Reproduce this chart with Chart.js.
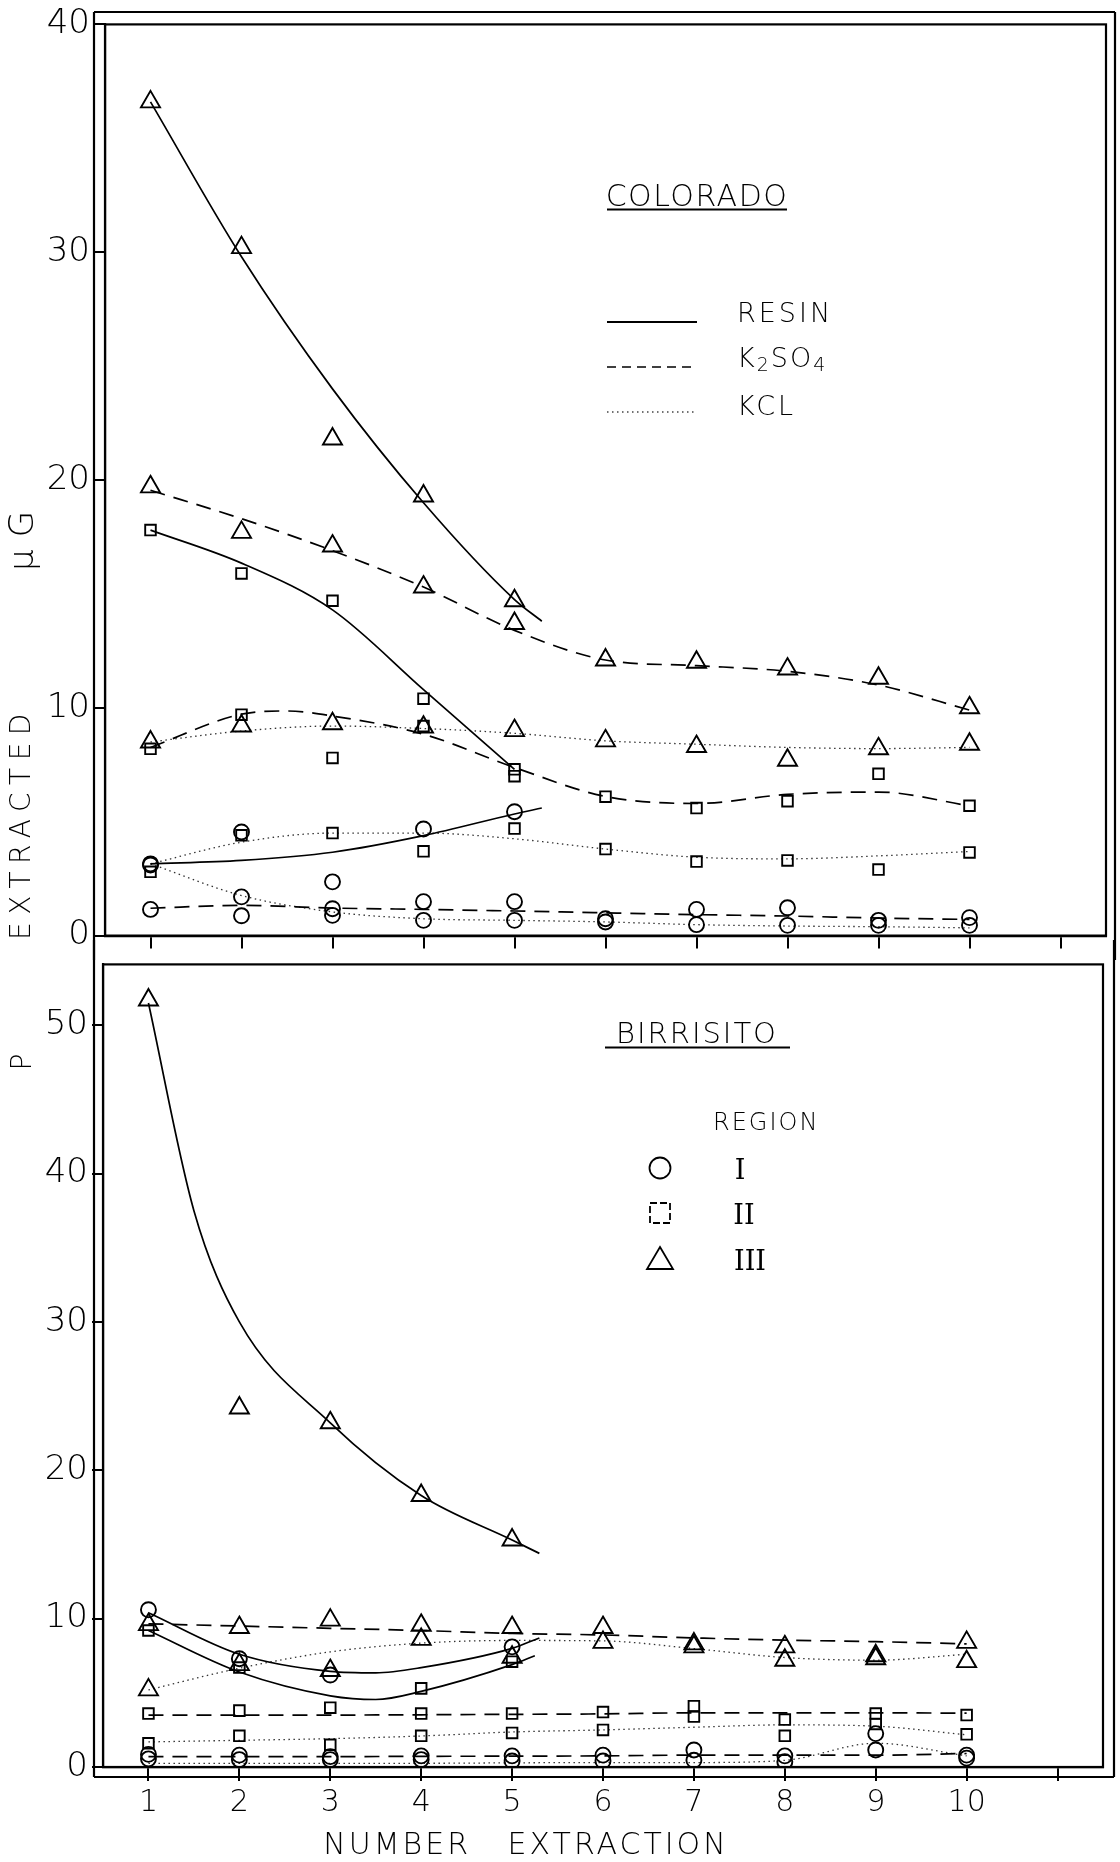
<!DOCTYPE html>
<html>
<head>
<meta charset="utf-8">
<title>P extracted - Colorado / Birrisito</title>
<script src="https://cdn.jsdelivr.net/npm/chart.js@4.4.0/dist/chart.umd.min.js"></script>
<style>
  html, body { margin: 0; padding: 0; background: #fff; }
  #page { position: relative; width: 1120px; height: 1862px; overflow: hidden; color: #000;
          font-family: "DejaVu Sans", sans-serif; font-weight: 200; }
  canvas { position: absolute; left: 0; }
  #topChart { top: 0; }
  #bottomChart { top: 940px; }
  #deco { position: absolute; left: 0; top: 0; }
  .txt { position: absolute; white-space: nowrap; line-height: 1; }
  .c { transform: translate(-50%, -50%); }
  .l { transform: translate(0, -50%); }
  .rot { transform: translate(-50%, -50%) rotate(-90deg); }
  .roman { font-family: "DejaVu Serif", serif; font-weight: 400; font-size: 27px; }
  sub { font-size: 0.7em; vertical-align: -0.25em; }
</style>
</head>
<body>
<div id="page">
  <canvas id="topChart" width="1120" height="960"></canvas>
  <canvas id="bottomChart" width="1120" height="922"></canvas>

  <svg id="deco" width="1120" height="1862">
    <!-- underlines -->
    <line x1="607" y1="209.5" x2="787" y2="209.5" stroke="#000" stroke-width="2"/>
    <line x1="605" y1="1047.5" x2="790" y2="1047.5" stroke="#000" stroke-width="2"/>
    <!-- line style key -->
    <line x1="607" y1="322" x2="697" y2="322" stroke="#000" stroke-width="1.8"/>
    <line x1="607" y1="367" x2="697" y2="367" stroke="#000" stroke-width="1.6" stroke-dasharray="9 6"/>
    <line x1="607" y1="412" x2="697" y2="412" stroke="#444" stroke-width="1.3" stroke-dasharray="1.5 3.5"/>
    <!-- symbol key -->
    <circle cx="660" cy="1168" r="10.5" fill="none" stroke="#000" stroke-width="1.8"/>
    <rect x="650" y="1203" width="20" height="20" fill="none" stroke="#000" stroke-width="1.8" stroke-dasharray="7 3"/>
    <polygon points="660,1247 673,1269 647,1269" fill="none" stroke="#000" stroke-width="1.8"/>
  </svg>

  <div class="txt c" style="left:697px; top:196px; font-size:30px; letter-spacing:1.5px;">COLORADO</div>
  <div class="txt l" style="left:737px; top:312px; font-size:27px; letter-spacing:3px;">RESIN</div>
  <div class="txt l" style="left:737px; top:359px; font-size:27px; letter-spacing:2px;">K<sub>2</sub>SO<sub>4</sub></div>
  <div class="txt l" style="left:737px; top:405px; font-size:27px; letter-spacing:3px;">KCL</div>

  <div class="txt c" style="left:697px; top:1033px; font-size:29px; letter-spacing:2px;">BIRRISITO</div>
  <div class="txt l" style="left:713px; top:1122px; font-size:24px; letter-spacing:2px;">REGION</div>
  <div class="txt c roman" style="left:740px; top:1169px;">I</div>
  <div class="txt c roman" style="left:744px; top:1214px;">II</div>
  <div class="txt c roman" style="left:750px; top:1260px;">III</div>

  <div class="txt rot" style="left:22px; top:1062px; font-size:28px;">P</div>
  <div class="txt rot" style="left:21px; top:823px; font-size:28px; letter-spacing:7.5px;">EXTRACTED</div>
  <div class="txt rot" style="left:21px; top:535px; font-size:34px; letter-spacing:12px;">μG</div>
  <div class="txt c" style="left:526px; top:1844px; font-size:30px; letter-spacing:3px; word-spacing:24px;">NUMBER EXTRACTION</div>
</div>

<script>
// extraction numbers (x)
const extractions = [1, 2, 3, 4, 5, 6, 7, 8, 9, 10];
const resinExtractions = [1, 2, 3, 4, 5];
const xTicks = [1, 2, 3, 4, 5, 6, 7, 8, 9, 10, 11];
const xTickLabels = ['1', '2', '3', '4', '5', '6', '7', '8', '9', '10', ''];
const coloradoYTicks = [0, 10, 20, 30, 40];
const birrisitoYTicks = [0, 10, 20, 30, 40, 50];

// Colorado - measured P (ug), region I / II / III
const coResinI = [3.15, 4.55, 2.36, 4.68, 5.44];
const coResinII = [17.8, 15.9, 14.7, 10.4, 7.3];
const coResinIII = [36.6, 30.2, 21.8, 19.3, 14.7];
const coK2so4I = [1.15, 0.87, 1.18, 1.49, 1.49, 0.74, 1.15, 1.22, 0.67, 0.79];
const coK2so4II = [8.2, 9.7, 7.8, 9.2, 7.0, 6.1, 5.6, 5.9, 7.1, 5.7];
const coK2so4III = [19.7, 17.7, 17.1, 15.3, 13.7, 12.1, 12.0, 11.7, 11.3, 10.0];
const coKclI = [3.1, 1.7, 0.89, 0.67, 0.67, 0.6, 0.48, 0.45, 0.45, 0.45];
const coKclII = [2.8, 4.4, 4.5, 3.7, 4.7, 3.8, 3.25, 3.3, 2.9, 3.65];
const coKclIII = [8.5, 9.2, 9.3, 9.15, 9.0, 8.55, 8.3, 7.7, 8.2, 8.4];

// Colorado - hand drawn curves
const coResinIIIFitX = [1, 2, 3, 4, 5, 5.3];
const coResinIIIFit = [36.6, 29.8, 24.0, 19.0, 14.75, 13.8];
const coResinIIFitX = [1, 2, 3, 4, 5];
const coResinIIFit = [17.8, 16.35, 14.3, 10.8, 7.3];
const coResinIFitX = [1, 2, 3, 4, 5, 5.3];
const coResinIFit = [3.15, 3.3, 3.66, 4.39, 5.34, 5.6];
const coK2so4IIIFit = [19.55, 18.3, 16.9, 15.3, 13.4, 12.1, 11.85, 11.6, 11.0, 9.9];
const coK2so4IIFitX = [1, 2, 2.5, 3, 4, 5, 6, 7, 8, 9, 10];
const coK2so4IIFit = [8.26, 9.72, 9.86, 9.64, 8.84, 7.38, 6.11, 5.8, 6.2, 6.3, 5.7];
const coK2so4IFit = [1.2, 1.33, 1.21, 1.15, 1.08, 1.0, 0.92, 0.86, 0.77, 0.71];
const coKclIIIFit = [8.5, 8.98, 9.2, 9.09, 8.88, 8.55, 8.4, 8.26, 8.21, 8.26];
const coKclIIFit = [3.15, 4.1, 4.5, 4.5, 4.25, 3.8, 3.44, 3.37, 3.5, 3.69];
const coKclIFit = [3.15, 1.76, 1.04, 0.74, 0.67, 0.6, 0.48, 0.42, 0.39, 0.34];

// Birrisito - measured P (ug)
const biResinI = [10.6, 7.3, 6.2, null, 8.1];
const biResinII = [9.2, 6.7, null, 5.3, 7.1];
const biResinIII = [51.7, 24.2, 23.2, 18.3, 15.3];
const biK2so4I = [0.85, 0.8, 0.7, 0.75, 0.75, 0.8, 1.15, 0.75, 1.15, 0.8];
const biK2so4II = [3.6, 3.8, 4.0, 3.6, 3.6, 3.7, 4.1, 3.2, 3.6, 3.5];
const biK2so4III = [9.6, 9.4, 9.9, 9.55, 9.4, 9.4, 8.3, 8.1, 7.5, 8.4];
const biKclI = [0.55, 0.5, 0.5, 0.5, 0.4, 0.4, 0.45, 0.35, 2.25, 0.6];
const biKclII = [1.6, 2.1, 1.5, 2.1, 2.3, 2.5, 3.4, 2.1, 2.9, 2.2];
const biKclIII = [5.2, 6.9, 6.5, 8.6, 7.4, 8.4, 8.1, 7.2, 7.3, 7.1];

// Birrisito - hand drawn curves
const biResinIIIFitX = [1, 1.5, 2, 3, 4, 5, 5.3];
const biResinIIIFit = [51.5, 37.5, 30, 23.2, 18.3, 15.3, 14.4];
const biResinIFitX = [1, 2, 3, 3.5, 4, 5, 5.3];
const biResinIFit = [10.4, 7.6, 6.45, 6.35, 6.7, 8.0, 8.7];
const biResinIIFitX = [1, 2, 3, 3.5, 4, 5, 5.25];
const biResinIIFit = [9.2, 6.4, 4.8, 4.55, 5.1, 6.9, 7.5];
const biK2so4IIIFit = [9.65, 9.5, 9.35, 9.2, 9.0, 8.9, 8.7, 8.55, 8.45, 8.3];
const biK2so4IIFit = [3.5, 3.5, 3.5, 3.52, 3.55, 3.58, 3.65, 3.65, 3.65, 3.63];
const biK2so4IFit = [0.7, 0.7, 0.7, 0.72, 0.73, 0.75, 0.8, 0.8, 0.8, 0.91];
const biKclIIIFit = [5.2, 6.66, 7.76, 8.35, 8.53, 8.5, 7.98, 7.38, 7.2, 7.6];
const biKclIIFit = [1.69, 1.8, 1.91, 2.09, 2.36, 2.5, 2.68, 2.84, 2.75, 2.17];
const biKclIFit = [0.25, 0.25, 0.25, 0.25, 0.28, 0.3, 0.3, 0.45, 1.6, 0.75];

// line styles per extractant
const SOLID = { dash: [], width: 1.7, color: '#000' };
const DASHED = { dash: [15, 9], width: 1.7, color: '#000' };
const DOTTED = { dash: [1.5, 3.5], width: 1.3, color: '#333' };

function toPoints(xs, ys) {
    return xs.map((x, i) => ({ x: x, y: ys[i] })).filter(p => p.y !== null);
}

function marks(label, xs, ys, style) {
    let radius = style === 'triangle' ? 11 : 7.5;
    return {
        label: label,
        data: toPoints(xs, ys),
        showLine: false,
        pointStyle: style,
        pointRadius: radius,
        pointBorderWidth: 1.9,
        borderColor: '#000',
        backgroundColor: 'rgba(0,0,0,0)',
        order: 0
    };
}

function curve(label, xs, ys, line) {
    return {
        label: label,
        data: toPoints(xs, ys),
        showLine: true,
        pointRadius: 0,
        borderColor: line.color,
        borderWidth: line.width,
        borderDash: line.dash,
        cubicInterpolationMode: 'monotone',
        fill: false,
        order: 1
    };
}

// draws the double lined box round each panel
const framePlugin = {
    id: 'frame',
    afterDraw(chart, args, opts) {
        const ctx = chart.ctx;
        const a = chart.chartArea;
        ctx.save();
        ctx.strokeStyle = '#000';
        ctx.lineWidth = 2.2;
        ctx.strokeRect(a.left, a.top, a.right - a.left, a.bottom - a.top);
        ctx.beginPath();
        let top = opts.outerTop !== null ? opts.outerTop : 0;
        let bottom = opts.outerBottom !== null ? opts.outerBottom : chart.height;
        ctx.moveTo(opts.outerLeft, top);
        ctx.lineTo(opts.outerLeft, bottom);
        ctx.moveTo(opts.outerRight, top);
        ctx.lineTo(opts.outerRight, bottom);
        if (opts.outerTop !== null) {
            ctx.moveTo(opts.outerLeft, opts.outerTop);
            ctx.lineTo(opts.outerRight, opts.outerTop);
        }
        if (opts.outerBottom !== null) {
            ctx.moveTo(opts.outerLeft, opts.outerBottom);
            ctx.lineTo(opts.outerRight, opts.outerBottom);
        }
        ctx.stroke();
        ctx.restore();
    }
};

const tickFont = { family: 'DejaVu Sans', size: 34, weight: '200' };

function makeChart(canvasId, datasets, cfg) {
    let ctx = document.getElementById(canvasId).getContext('2d');
    return new Chart(ctx, {
        type: 'scatter',
        data: { datasets: datasets },
        plugins: [framePlugin],
        options: {
            responsive: false,
            animation: false,
            layout: { autoPadding: false, padding: cfg.padding },
            plugins: {
                legend: { display: false },
                tooltip: { enabled: false },
                frame: cfg.frame
            },
            scales: {
                x: {
                    type: 'linear',
                    min: 0.5,
                    max: 11.5,
                    afterBuildTicks: (scale) => { scale.ticks = xTicks.map(v => ({ value: v })); },
                    afterFit: (scale) => { scale.height = cfg.xHeight; },
                    ticks: {
                        display: cfg.xLabels,
                        padding: 4,
                        color: '#000',
                        font: { family: 'DejaVu Sans', size: 30, weight: '200' },
                        callback: (value) => xTickLabels[xTicks.indexOf(value)]
                    },
                    grid: { drawOnChartArea: false, drawTicks: true, tickLength: cfg.xTickLength, color: '#000', lineWidth: 2 },
                    border: { display: true, color: '#000', width: 2.2 }
                },
                y: {
                    type: 'linear',
                    min: 0,
                    max: cfg.yMax,
                    afterBuildTicks: (scale) => { scale.ticks = cfg.yTicks.map(v => ({ value: v })); },
                    afterFit: (scale) => { scale.width = cfg.yWidth; },
                    ticks: { padding: 4, color: '#000', font: tickFont },
                    grid: { drawOnChartArea: false, drawTicks: true, tickLength: 11, color: '#000', lineWidth: 2 },
                    border: { display: true, color: '#000', width: 2.2 }
                }
            }
        }
    });
}

const coloradoDatasets = [
    marks('Resin I', resinExtractions, coResinI, 'circle'),
    marks('Resin II', resinExtractions, coResinII, 'rect'),
    marks('Resin III', resinExtractions, coResinIII, 'triangle'),
    marks('K2SO4 I', extractions, coK2so4I, 'circle'),
    marks('K2SO4 II', extractions, coK2so4II, 'rect'),
    marks('K2SO4 III', extractions, coK2so4III, 'triangle'),
    marks('KCl I', extractions, coKclI, 'circle'),
    marks('KCl II', extractions, coKclII, 'rect'),
    marks('KCl III', extractions, coKclIII, 'triangle'),
    curve('Resin I curve', coResinIFitX, coResinIFit, SOLID),
    curve('Resin II curve', coResinIIFitX, coResinIIFit, SOLID),
    curve('Resin III curve', coResinIIIFitX, coResinIIIFit, SOLID),
    curve('K2SO4 I curve', extractions, coK2so4IFit, DASHED),
    curve('K2SO4 II curve', coK2so4IIFitX, coK2so4IIFit, DASHED),
    curve('K2SO4 III curve', extractions, coK2so4IIIFit, DASHED),
    curve('KCl I curve', extractions, coKclIFit, DOTTED),
    curve('KCl II curve', extractions, coKclIIFit, DOTTED),
    curve('KCl III curve', extractions, coKclIIIFit, DOTTED)
];

const birrisitoDatasets = [
    marks('Resin I', resinExtractions, biResinI, 'circle'),
    marks('Resin II', resinExtractions, biResinII, 'rect'),
    marks('Resin III', resinExtractions, biResinIII, 'triangle'),
    marks('K2SO4 I', extractions, biK2so4I, 'circle'),
    marks('K2SO4 II', extractions, biK2so4II, 'rect'),
    marks('K2SO4 III', extractions, biK2so4III, 'triangle'),
    marks('KCl I', extractions, biKclI, 'circle'),
    marks('KCl II', extractions, biKclII, 'rect'),
    marks('KCl III', extractions, biKclIII, 'triangle'),
    curve('Resin I curve', biResinIFitX, biResinIFit, SOLID),
    curve('Resin II curve', biResinIIFitX, biResinIIFit, SOLID),
    curve('Resin III curve', biResinIIIFitX, biResinIIIFit, SOLID),
    curve('K2SO4 I curve', extractions, biK2so4IFit, DASHED),
    curve('K2SO4 II curve', extractions, biK2so4IIFit, DASHED),
    curve('K2SO4 III curve', extractions, biK2so4IIIFit, DASHED),
    curve('KCl I curve', extractions, biKclIFit, DOTTED),
    curve('KCl II curve', extractions, biKclIIFit, DOTTED),
    curve('KCl III curve', extractions, biKclIIIFit, DOTTED)
];

// top panel: plot area 105..1106 x 22..937
makeChart('topChart', coloradoDatasets, {
    padding: { top: 22, right: 14, bottom: 10, left: 0 },
    xHeight: 13, xTickLength: 13, xLabels: false,
    yWidth: 105, yMax: 40, yTicks: coloradoYTicks,
    frame: { outerLeft: 94, outerRight: 1115, outerTop: 12, outerBottom: null }
});

// bottom panel: plot area 103..1103 x 950..1767 (canvas starts at 940)
makeChart('bottomChart', birrisitoDatasets, {
    padding: { top: 10, right: 17, bottom: 35, left: 0 },
    xHeight: 60, xTickLength: 14, xLabels: true,
    yWidth: 103, yMax: 54.1, yTicks: birrisitoYTicks,
    frame: { outerLeft: 94, outerRight: 1114, outerTop: null, outerBottom: 837 }
});
</script>
</body>
</html>
